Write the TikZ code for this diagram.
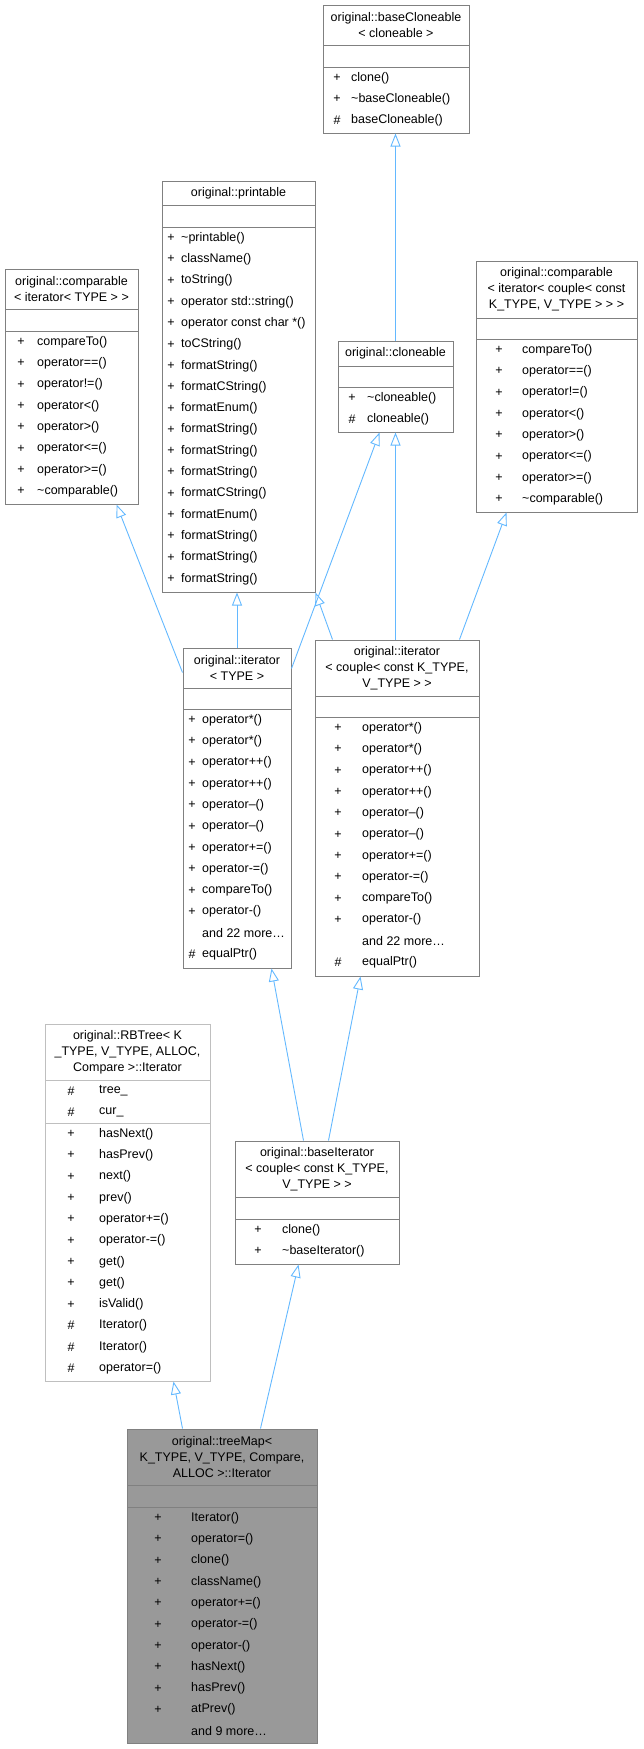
\documentclass[tikz,border=0pt]{standalone}
\usepackage{fontspec}
\setmainfont{Liberation Sans}
\usetikzlibrary{arrows.meta,calc,fit,positioning}

\definecolor{boxgray}{HTML}{808080}
\definecolor{lightgray}{HTML}{BFBFBF}
\definecolor{fillgray}{HTML}{999999}
\definecolor{edgeblue}{HTML}{63B8FF}

\tikzset{
  cls/.style={draw=boxgray, line width=1pt, fill=white, inner sep=0pt},
  clsline/.style={draw=boxgray, line width=1pt},
  title/.style={font=\fontsize{12.5}{16}\selectfont, align=center, inner sep=0pt},
  mem/.style={font=\fontsize{12.5}{15}\selectfont, inner sep=0pt},
  inh/.style={draw=edgeblue, line width=0.9pt, -{Triangle[open, length=13pt, width=10pt]}}
}

% box: [style] name, x1, y1, x2, y2, first rule, second rule, title
\newcommand\umlclass[9][]{%
  \node[cls, #1, fit={(#3,#4) (#5,#6)}] (#2) {};
  \draw[clsline, #1] (#3,#7) -- (#5,#7) (#3,#8) -- (#5,#8);
  \node[title] at ({(#3+#5)/2},{(#4+#7)/2}) {#9};}

% rows: symbol x, name x, top rule, list of symbol/name
\newcommand\members[4]{%
  \foreach \s/\n [count=\i] in {#4} {
    \node[mem] at (#1,{#3+11+(\i-1)*21.3}) {\s};
    \node[mem, anchor=west] at (#2,{#3+11+(\i-1)*21.3}) {\n};
  }}

\begin{document}
\begin{tikzpicture}[x=1pt, y=-1pt]
  \useasboundingbox (0,0) rectangle (643,1749);

  % classes
  \umlclass{basecl}{323}{5}{469}{133}{45}{67}{original::baseCloneable\\< cloneable >}
  \members{337}{351}{67}{+/clone(), +/\textasciitilde baseCloneable(), \#/baseCloneable()}

  \umlclass{printable}{162}{181}{315}{592}{205}{227}{original::printable}
  \members{171}{181}{227}{+/\textasciitilde printable(), +/className(), +/toString(),
    +/operator std::string(), +/operator const char *(), +/toCString(),
    +/formatString(), +/formatCString(), +/formatEnum(), +/formatString(),
    +/formatString(), +/formatString(), +/formatCString(), +/formatEnum(),
    +/formatString(), +/formatString(), +/formatString()}

  \umlclass{compT}{5}{269}{138}{504}{309}{331}{original::comparable\\< iterator< TYPE > >}
  \members{21}{37}{331}{+/compareTo(), +/operator==(), +/operator!=(), +/operator<(),
    +/operator>(), +/operator<=(), +/operator>=(), +/\textasciitilde comparable()}

  \umlclass{cloneable}{338}{341}{453}{432}{366}{387}{original::cloneable}
  \members{352}{367}{387}{+/\textasciitilde cloneable(), \#/cloneable()}

  \umlclass{compC}{476}{261}{637}{512}{318}{339}{original::comparable\\< iterator< couple< const\\K\_TYPE, V\_TYPE > > >}
  \members{499}{522}{339}{+/compareTo(), +/operator==(), +/operator!=(), +/operator<(),
    +/operator>(), +/operator<=(), +/operator>=(), +/\textasciitilde comparable()}

  \umlclass{iterT}{183}{648}{291}{968}{688}{709}{original::iterator\\< TYPE >}
  \members{192}{202}{709}{+/operator*(), +/operator*(), +/operator++(), +/operator++(),
    +/operator--(), +/operator--(), +/operator+=(), +/operator-=(), +/compareTo(),
    +/operator-(), /and 22 more\ldots, \#/equalPtr()}

  \umlclass{iterC}{315}{640}{479}{976}{696}{717}{original::iterator\\< couple< const K\_TYPE,\\V\_TYPE > >}
  \members{338}{362}{717}{+/operator*(), +/operator*(), +/operator++(), +/operator++(),
    +/operator--(), +/operator--(), +/operator+=(), +/operator-=(), +/compareTo(),
    +/operator-(), /and 22 more\ldots, \#/equalPtr()}

  \umlclass[draw=lightgray]{rbIter}{45}{1024}{210}{1381}{1080}{1123}{original::RBTree< K\\\_TYPE, V\_TYPE, ALLOC,\\Compare >::Iterator}
  \members{71}{99}{1080}{\#/tree\_, \#/cur\_}
  \members{71}{99}{1123}{+/hasNext(), +/hasPrev(), +/next(), +/prev(), +/operator+=(),
    +/operator-=(), +/get(), +/get(), +/isValid(), \#/Iterator(), \#/Iterator(),
    \#/operator=()}

  \umlclass{baseIt}{235}{1141}{399}{1264}{1197}{1219}{original::baseIterator\\< couple< const K\_TYPE,\\V\_TYPE > >}
  \members{258}{282}{1219}{+/clone(), +/\textasciitilde baseIterator()}

  \umlclass[fill=fillgray]{mapIter}{127}{1429}{317}{1743}{1485}{1507}{original::treeMap<\\K\_TYPE, V\_TYPE, Compare,\\ALLOC >::Iterator}
  \members{158}{191}{1507}{+/Iterator(), +/operator=(), +/clone(), +/className(),
    +/operator+=(), +/operator-=(), +/operator-(), +/hasNext(), +/hasPrev(),
    +/atPrev(), /and 9 more\ldots}

  % inheritance
  \draw[inh] (cloneable.north) -- (basecl.south -| cloneable.north);
  \draw[inh] ($(iterT.north west)+(0,25)$) -- ($(compT.south west)+(112,0)$);
  \draw[inh] (iterT.north) -- (iterT.north |- printable.south);
  \draw[inh] ($(iterT.north east)+(0,21)$) -- ($(cloneable.south west)+(42,0)$);
  \draw[inh] ($(iterC.north west)+(18,0)$) -- (printable.south east);
  \draw[inh] (cloneable.south |- iterC.north) -- (cloneable.south);
  \draw[inh] ($(iterC.north west)+(145,0)$) -- ($(compC.south west)+(31,0)$);
  \draw[inh] ($(baseIt.north west)+(69,0)$) -- ($(iterT.south west)+(89,0)$);
  \draw[inh] ($(baseIt.north west)+(94,0)$) -- ($(iterC.south west)+(46,0)$);
  \draw[inh] ($(mapIter.north west)+(56,0)$) -- ($(rbIter.south west)+(129,0)$);
  \draw[inh] ($(mapIter.north west)+(134,0)$) -- ($(baseIt.south west)+(64,0)$);
\end{tikzpicture}
\end{document}
